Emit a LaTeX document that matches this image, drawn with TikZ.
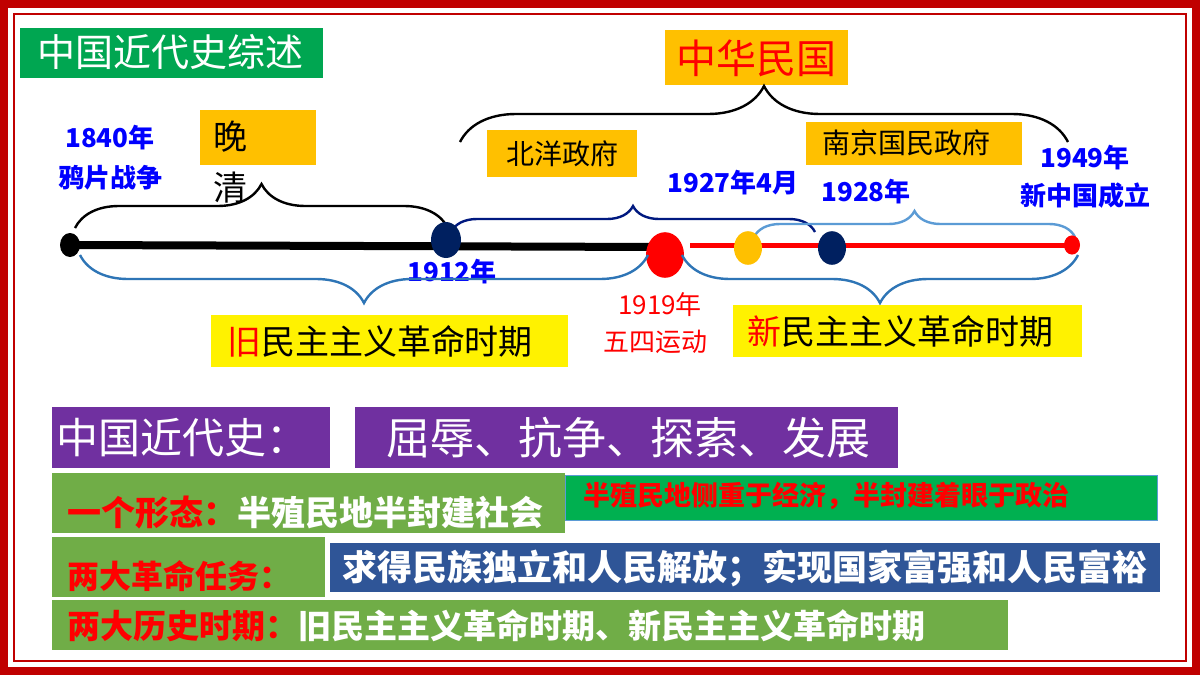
\documentclass[tikz,border=0pt]{standalone}
\usepackage{fontspec}
\setmainfont{Noto Sans CJK SC}
\usetikzlibrary{decorations.pathreplacing}
\definecolor{tgreen}{HTML}{00A651}
\definecolor{lgreen}{HTML}{70AD47}
\definecolor{bgreen}{HTML}{00B050}
\definecolor{orng}{HTML}{FFC000}
\definecolor{purp}{HTML}{7030A0}
\definecolor{dblue}{HTML}{2F5597}
\definecolor{navy}{HTML}{002060}
\definecolor{brblue}{HTML}{2E75B6}
\definecolor{lblue}{HTML}{5B9BD5}
\definecolor{tblue}{HTML}{0000FF}
\definecolor{frame}{HTML}{C00000}
\tikzset{
 box/.style={inner sep=0pt,anchor=north west},
 yr/.style={text=tblue,font=\fontsize{13}{15}\selectfont\bfseries},
 brc/.style={decorate,decoration={brace,amplitude=#1},line width=1.2pt},
 dotn/.style={ellipse,minimum width=#1,minimum height=1.2*#1,inner sep=0pt},
}
\usetikzlibrary{shapes.geometric}
\begin{document}
\begin{tikzpicture}[x=0.5pt,y=-0.5pt]
\useasboundingbox (0,0) rectangle (1200,675);
\fill[white] (0,0) rectangle (1200,675);
\draw[frame,line width=4pt] (4,4) rectangle (1196,671);
\draw[frame,line width=1pt] (14,14) rectangle (1186,661);
% title
\fill[tgreen] (20,28) rectangle (323,78);
\node[text=white,font=\fontsize{19}{21}\selectfont] (title) at (171,52) {中国近代史综述};
\fill[orng] (665,30) rectangle (848,85);
\node[text=red,font=\fontsize{20}{22}\selectfont] (mg) at (756,58) {中华民国};
% top brace
\coordinate (tb1) at (460,142); \coordinate (tb2) at (1068,142);
\draw[brc=28pt,black] (tb1) -- (tb2);
% boxes
\fill[orng] (200,110) rectangle (316,165);
\node[font=\fontsize{17}{19}\selectfont] (wan) at (230,137) {晚};
\node[font=\fontsize{17}{19}\selectfont] (qing) at (230,188) {清};
\fill[orng] (487,130) rectangle (637,177);
\node[font=\fontsize{14}{16}\selectfont] (by) at (562,154) {北洋政府};
\fill[orng] (806,122) rectangle (1022,165);
\node[font=\fontsize{14}{16}\selectfont] (nj) at (906,143) {南京国民政府};
% years
\node[yr] (y1840) at (110,138) {1840年};
\node[yr] (yp) at (110,178) {鸦片战争};
\node[yr] (y1927) at (733,183) {1927年4月};
\node[yr] (y1928) at (866,192) {1928年};
\node[yr] (y1949) at (1085,158) {1949年};
\node[yr] (yx) at (1085,196) {新中国成立};
\node[yr] (y1912) at (452,272) {1912年};
\node[text=red,font=\fontsize{13}{15}\selectfont] (y1919) at (660,305) {1919年};
\node[text=red,font=\fontsize{13}{15}\selectfont] (ws) at (655,342) {五四运动};
% braces above line
\draw[brc=22pt,black] (75,228) -- (448,228);
\draw[brc=13pt,navy!80!blue] (451,232) -- (815,232);
\draw[brc=13pt,lblue] (754,237) -- (1075,237);
% timeline
\draw[line width=4pt,black] (70,245) -- (660,247);
\draw[line width=2.5pt,red] (690,245) -- (1072,245);
\node[dotn=10pt,fill=black] (d1840) at (70,245) {};
\node[dotn=15pt,fill=navy] (d1912) at (446,240) {};
\node[dotn=19pt,fill=red] (d1919) at (665,255) {};
\node[dotn=14pt,fill=orng] (d1927) at (748,248) {};
\node[dotn=14pt,fill=navy] (d1928) at (832,248) {};
\node[dotn=8pt,fill=red] (d1949) at (1072,245) {};
% braces below
\draw[brc=24pt,brblue] (648,255) -- (80,255);
\draw[brc=24pt,brblue] (1078,255) -- (682,255);
\fill[yellow] (211,315) rectangle (568,367);
\node[font=\fontsize{17}{19}\selectfont] (old) at (380,341) {\textcolor{red}{旧}民主主义革命时期};
\fill[yellow] (733,305) rectangle (1082,357);
\node[font=\fontsize{17}{19}\selectfont] (new) at (900,331) {\textcolor{red}{新}民主主义革命时期};
% bottom
\fill[purp] (52,407) rectangle (330,468);
\node[text=white,font=\fontsize{21}{23}\selectfont] (jd) at (182,438) {中国近代史：};
\fill[purp] (355,407) rectangle (898,468);
\node[text=white,font=\fontsize{22}{24}\selectfont] (qr) at (628,438) {屈辱、抗争、探索、发展};
\fill[lgreen] (52,473) rectangle (565,533);
\node[font=\fontsize{17}{19}\selectfont\bfseries,anchor=west] (xt) at (60,512) {\textcolor{red}{一个形态：}\textcolor{white}{半殖民地半封建社会}};
\fill[bgreen] (565,475) rectangle (1157,520);
\draw[lblue,line width=0.5pt] (565,475) rectangle (1157,520);
\node[text=red,font=\fontsize{13.5}{15}\selectfont\bfseries,anchor=west] (bz) at (576,496) {半殖民地侧重于经济，半封建着眼于政治};
\fill[lgreen] (52,537) rectangle (325,597);
\node[text=red,font=\fontsize{16}{18}\selectfont\bfseries,anchor=west] (rw) at (60,576) {两大革命任务：};
\fill[dblue] (330,543) rectangle (1160,592);
\node[text=white,font=\fontsize{17.5}{19}\selectfont\bfseries] (rw2) at (745,568) {求得民族独立和人民解放；实现国家富强和人民富裕};
\fill[lgreen] (52,600) rectangle (1008,650);
\node[font=\fontsize{16.5}{18}\selectfont\bfseries,anchor=west] (sq) at (60,626) {\textcolor{red}{两大历史时期：}\textcolor{white}{旧民主主义革命时期、新民主主义革命时期}};
\end{tikzpicture}
\end{document}
